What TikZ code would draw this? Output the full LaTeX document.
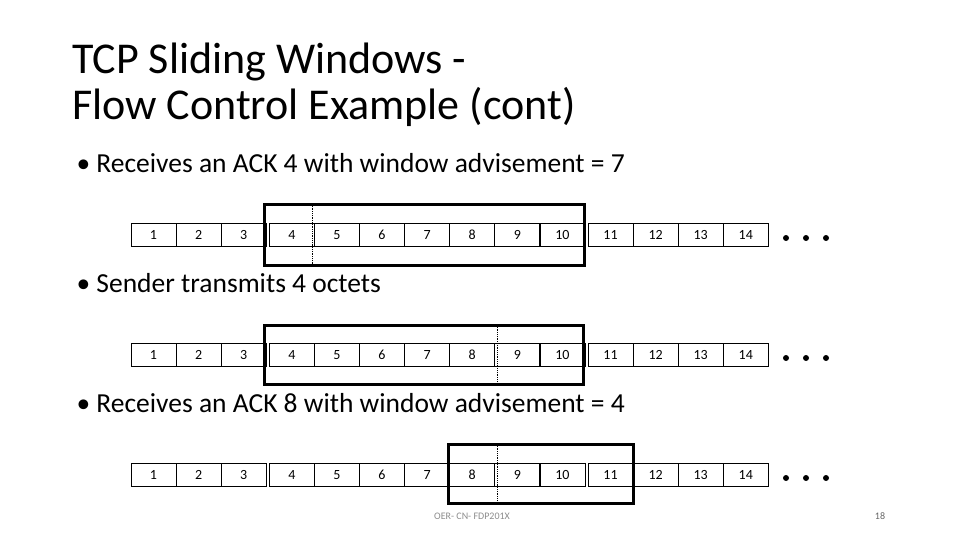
\documentclass[tikz,border=0pt]{standalone}
\usepackage{fontspec}
\setmainfont{Carlito}
\usetikzlibrary{positioning}
\tikzset{
  cell/.style={draw, line width=0.8pt, minimum width=45pt, minimum height=23pt, inner sep=0pt, font=\fontsize{14}{14}\selectfont},
  window/.style={draw, line width=3pt},
  divider/.style={densely dotted, line width=0.8pt},
  bullet/.style={anchor=west, font=\fontsize{27.5}{30}\selectfont},
  dot/.style={fill, circle, inner sep=0pt, minimum size=6pt}
}
\begin{document}
\begin{tikzpicture}[x=1pt,y=-1pt]
  \useasboundingbox (0,0) rectangle (960,540);
  % Title
  \node[anchor=north west, align=left, font=\fontsize{44}{46}\selectfont, inner sep=0pt] (title) at (72,43)
    {TCP Sliding Windows -\\Flow Control Example (cont)};
  % Bullets
  \node[bullet] (b1) at (73,163) {\textbullet\ Receives an ACK 4 with window advisement = 7};
  \node[bullet] (b2) at (73,283) {\textbullet\ Sender transmits 4 octets};
  \node[bullet] (b3) at (73,403) {\textbullet\ Receives an ACK 8 with window advisement = 4};
  % Rows of octets
  \foreach \r/\y in {1/235, 2/355, 3/475} {
    \foreach \i in {1,...,14} {
      \pgfmathsetmacro{\gap}{(\i>3)*3 + (\i>10)*3}
      \node[cell] (c\r-\i) at ({153.5+45.1*(\i-1)+\gap}, \y) {\i};
    }
    \node[dot] (d\r-1) at (786,\y+3) {};
    \node[dot] (d\r-2) at (806,\y+3) {};
    \node[dot] (d\r-3) at (826,\y+3) {};
  }
  % Windows
  \draw[window] (264,204) rectangle (584,265);
  \draw[divider] (312,204) -- (312,265);
  \draw[window] (264,325) rectangle (583,384);
  \draw[divider] (497,325) -- (497,384);
  \draw[window] (448,444) rectangle (633,503);
  \draw[divider] (497,444) -- (497,503);
  % Footer
  \node[font=\fontsize{10}{10}\selectfont, text=black!45] (footer) at (472,516) {OER- CN- FDP201X};
  \node[font=\fontsize{10}{10}\selectfont, text=black!60] (page) at (880,516) {18};
\end{tikzpicture}
\end{document}
